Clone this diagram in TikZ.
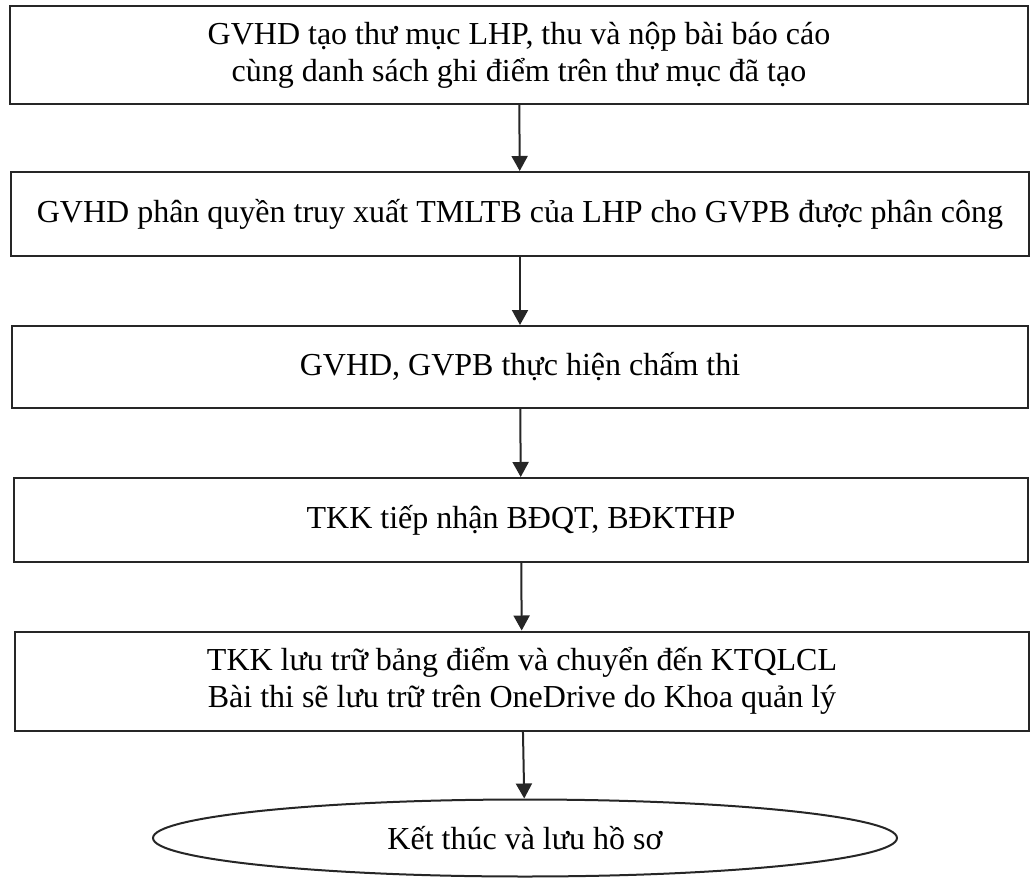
\documentclass[tikz,border=0pt]{standalone}
\usepackage{fontspec}
\setmainfont{Liberation Serif}
\usetikzlibrary{arrows.meta,shapes.geometric}
\tikzset{
	stepbox/.style={
			draw=black!85, line width=1pt, rectangle, align=center,
			minimum width=#1, inner sep=0pt,
			font=\fontsize{16}{18.5}\selectfont
		},
	endoval/.style={
			draw=black!85, line width=1pt, ellipse, inner sep=0pt,
			minimum width=372pt, minimum height=38.5pt,
			font=\fontsize{16}{18.5}\selectfont
		},
	flow/.style={draw=black!85, line width=1pt, -{Triangle[width=8pt,length=7.5pt]}}
}

\begin{document}
\begin{tikzpicture}[x=0.5pt, y=-0.5pt]
	\useasboundingbox (0,0) rectangle (1030,879);
	\node[stepbox=509pt, minimum height=49pt] (a) at (519,55) {GVHD tạo thư mục LHP, thu và nộp bài báo cáo\\cùng danh sách ghi điểm trên thư mục đã tạo};
	\node[stepbox=509pt, minimum height=42pt] (b) at (520,214) {GVHD phân quyền truy xuất TMLTB của LHP cho GVPB được phân công};
	\node[stepbox=508pt, minimum height=41pt] (c) at (520,367) {GVHD, GVPB thực hiện chấm thi};
	\node[stepbox=507pt, minimum height=42pt] (d) at (521,520) {TKK tiếp nhận BĐQT, BĐKTHP};
	\node[stepbox=507pt, minimum height=49.5pt] (e) at (522,681) {TKK lưu trữ bảng điểm và chuyển đến KTQLCL\\Bài thi sẽ lưu trữ trên OneDrive do Khoa quản lý};
	\node[endoval] (f) at (525,838) {Kết thúc và lưu hồ sơ};
	\draw[flow] (a) -- (b);
	\draw[flow] (b) -- (c);
	\draw[flow] (c) -- (d);
	\draw[flow] (d) -- (e);
	\draw[flow] (e) -- (f);
\end{tikzpicture}
\end{document}
